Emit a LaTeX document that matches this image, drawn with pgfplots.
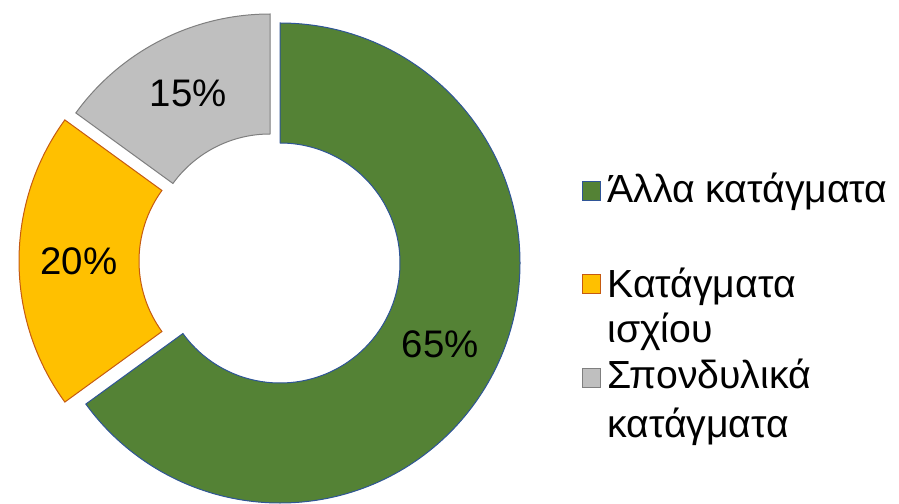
\documentclass[border=0pt]{standalone}
\usepackage{pgfplots}
\pgfplotsset{compat=1.18}
\usepackage{pgfplotstable}
\usepackage{fontspec}
\setmainfont{Liberation Sans}
\definecolor{cgreen}{HTML}{548235}
\definecolor{cyellow}{HTML}{FFC000}
\definecolor{cgray}{HTML}{BFBFBF}
\definecolor{egreen}{HTML}{2F5597}
\definecolor{eyellow}{HTML}{C55A11}
\definecolor{egray}{HTML}{7F7F7F}

% shares (percent) and the centre of each exploded slice (pixels, y up)
\pgfplotstableread{
name   value cx  cy
green  65    280 239
yellow 20    259 241
gray   15    270 248
}\donutdata

\pgfplotstablegetelem{0}{value}\of\donutdata \let\va\pgfplotsretval
\pgfplotstablegetelem{1}{value}\of\donutdata \let\vb\pgfplotsretval
\pgfplotstablegetelem{2}{value}\of\donutdata \let\vc\pgfplotsretval
\pgfplotstablegetelem{0}{cx}\of\donutdata \let\xa\pgfplotsretval
\pgfplotstablegetelem{1}{cx}\of\donutdata \let\xb\pgfplotsretval
\pgfplotstablegetelem{2}{cx}\of\donutdata \let\xc\pgfplotsretval
\pgfplotstablegetelem{0}{cy}\of\donutdata \let\ya\pgfplotsretval
\pgfplotstablegetelem{1}{cy}\of\donutdata \let\yb\pgfplotsretval
\pgfplotstablegetelem{2}{cy}\of\donutdata \let\yc\pgfplotsretval
\pgfmathsetmacro\aA{90}
\pgfmathsetmacro\aB{\aA-3.6*\va}
\pgfmathsetmacro\aC{\aB-3.6*\vb}
\pgfmathsetmacro\aD{\aC-3.6*\vc}
\pgfmathsetmacro\mA{(\aA+\aB)/2}
\pgfmathsetmacro\mB{(\aB+\aC)/2}
\pgfmathsetmacro\mC{(\aC+\aD)/2}

\newcommand\Rout{120pt}
\newcommand\Rin{60pt}
\newcommand\Rmid{90pt}
\newcommand\slice[8]{% cx cy start end fill edge label
  \begin{scope}[shift={(axis cs:#1,#2)}]
    \filldraw[fill=#5, draw=#6, line width=0.5pt]
      (#3:\Rout) arc[start angle=#3, end angle=#4, radius=\Rout]
      -- (#4:\Rin) arc[start angle=#4, end angle=#3, radius=\Rin] -- cycle;
    \node[font=\fontsize{19.2}{23}\selectfont, inner sep=0pt] at (#7:\Rmid) {#8};
  \end{scope}}

\begin{document}
\begin{tikzpicture}
\begin{axis}[
  scale only axis, width=449.5pt, height=251pt,
  xmin=0, xmax=899, ymin=0, ymax=502,
  hide axis, clip=false]
\path (axis cs:0,0) (axis cs:899,502);
\slice{\xa}{\ya}{\aA}{\aB}{cgreen}{egreen}{\mA}{\va\%}
\slice{\xb}{\yb}{\aB}{\aC}{cyellow}{eyellow}{\mB}{\vb\%}
\slice{\xc}{\yc}{\aC}{\aD}{cgray}{egray}{\mC}{\vc\%}
% legend
\filldraw[fill=cgreen, draw=egreen, line width=0.5pt] (axis cs:582,320) rectangle (axis cs:600,301);
\filldraw[fill=cyellow, draw=eyellow, line width=0.5pt] (axis cs:582,227) rectangle (axis cs:600,208);
\filldraw[fill=cgray, draw=egray, line width=0.5pt] (axis cs:582,134) rectangle (axis cs:600,115);
\begin{scope}[every node/.style={anchor=base west, inner sep=0pt, font=\fontsize{19.6}{23}\selectfont}]
\node at (axis cs:607,299) {Άλλα κατάγματα};
\node at (axis cs:607,205) {Κατάγματα};
\node at (axis cs:607,159) {ισχίου};
\node at (axis cs:607,114) {Σπονδυλικά};
\node at (axis cs:607,65) {κατάγματα};
\end{scope}
\end{axis}
\end{tikzpicture}
\end{document}
